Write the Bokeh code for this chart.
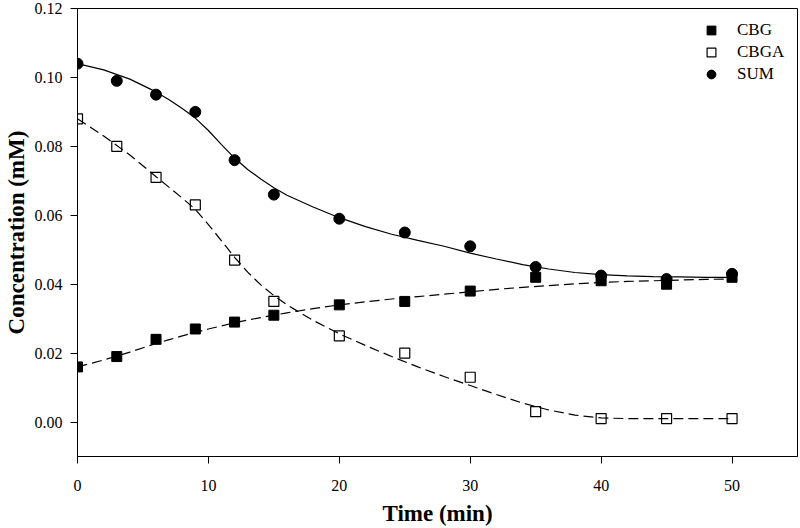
from bokeh.plotting import figure
from bokeh.models import Legend, LegendItem, FixedTicker, NumeralTickFormatter, Range1d
from bokeh.embed import file_html
from bokeh.resources import INLINE

# Measured data
time = [0, 3, 6, 9, 12, 15, 20, 25, 30, 35, 40, 45, 50]
cbg = [0.016, 0.019, 0.024, 0.027, 0.029, 0.031, 0.034, 0.035, 0.038, 0.042, 0.041, 0.040, 0.042]
cbga = [0.088, 0.080, 0.071, 0.063, 0.047, 0.035, 0.025, 0.020, 0.013, 0.003, 0.001, 0.001, 0.001]
total = [0.104, 0.099, 0.095, 0.090, 0.076, 0.066, 0.059, 0.055, 0.051, 0.045, 0.0425, 0.0415, 0.043]

# Fitted curves
fit_t = [0, 2, 4, 6, 7, 8, 9, 10, 11, 12, 13, 14, 15, 16, 18, 20, 22, 24, 26, 28, 30, 32, 34, 36,
         38, 40, 42, 44, 46, 48, 50]
fit_sum = [0.1040, 0.1022, 0.0995, 0.0958, 0.0935, 0.0910, 0.0882, 0.0846, 0.0805, 0.0766, 0.0733,
           0.0705, 0.0680, 0.0658, 0.0624, 0.0593, 0.0567, 0.0545, 0.0527, 0.0510, 0.0490, 0.0473,
           0.0457, 0.0444, 0.0434, 0.0428, 0.0424, 0.0422, 0.0421, 0.0420, 0.0420]
fit_cbga = [0.0880, 0.0830, 0.0775, 0.0712, 0.0681, 0.0650, 0.0617, 0.0573, 0.0526, 0.0478, 0.0435,
            0.0398, 0.0367, 0.0340, 0.0295, 0.0256, 0.0222, 0.0190, 0.0160, 0.0132, 0.0106, 0.0080,
            0.0055, 0.0035, 0.0020, 0.0012, 0.0010, 0.0010, 0.0010, 0.0010, 0.0010]
fit_cbg = [0.0160, 0.0180, 0.0203, 0.0228, 0.0239, 0.0250, 0.0260, 0.0270, 0.0279, 0.0288, 0.0296,
           0.0303, 0.0310, 0.0317, 0.0329, 0.0340, 0.0349, 0.0357, 0.0364, 0.0371, 0.0378, 0.0385,
           0.0391, 0.0396, 0.0401, 0.0405, 0.0408, 0.0410, 0.0412, 0.0414, 0.0415]

x_ticks = [0, 10, 20, 30, 40, 50]
y_ticks = [0.00, 0.02, 0.04, 0.06, 0.08, 0.10, 0.12]
x_title = "Time (min)"
y_title = "Concentration (mM)"

FONT = "Liberation Serif"

p = figure(width=800, height=528, output_backend="svg", toolbar_location=None,
           x_range=Range1d(0, 55), y_range=Range1d(-0.01, 0.12),
           min_border_left=77, min_border_right=3, min_border_top=8, min_border_bottom=72)
p.grid.visible = False
p.outline_line_color = "black"
p.outline_line_width = 1
p.background_fill_color = "white"
p.border_fill_color = "white"

for ax in (p.xaxis[0], p.yaxis[0]):
    ax.major_label_text_font = FONT
    ax.major_label_text_font_size = "16px"
    ax.major_label_text_color = "black"
    ax.axis_label_text_font = FONT
    ax.axis_label_text_font_style = "bold"
    ax.axis_label_text_font_size = "23px"
    ax.axis_label_text_color = "black"
    ax.axis_line_color = "black"
    ax.major_tick_line_color = "black"
    ax.major_tick_out = 7
    ax.major_tick_in = 0
    ax.minor_tick_line_color = None

p.xaxis.axis_label = x_title
p.yaxis.axis_label = y_title
p.xaxis.ticker = FixedTicker(ticks=x_ticks)
p.yaxis.ticker = FixedTicker(ticks=y_ticks)
p.yaxis.formatter = NumeralTickFormatter(format="0.00")
p.xaxis.major_label_standoff = 16
p.xaxis.axis_label_standoff = 7
p.yaxis.major_label_standoff = 8
p.yaxis.axis_label_standoff = 3

# fitted lines
p.line(fit_t, fit_sum, line_color="black", line_width=1.2)
p.line(fit_t, fit_cbg, line_color="black", line_width=1.2, line_dash="10 5")
p.line(fit_t, fit_cbga, line_color="black", line_width=1.2, line_dash="10 5")

# points
r_cbg = p.scatter(time, cbg, marker="square", size=10, fill_color="black", line_color="black")
r_cbga = p.scatter(time, cbga, marker="square", size=10, fill_color=None, line_color="black", line_width=1.2)
r_sum = p.scatter(time, total, marker="circle", size=11, fill_color="black", line_color="black")

legend = Legend(items=[LegendItem(label="CBG", renderers=[r_cbg]),
                       LegendItem(label="CBGA", renderers=[r_cbga]),
                       LegendItem(label="SUM", renderers=[r_sum])],
                location=(623, 371), border_line_color=None, background_fill_alpha=0,
                label_text_font=FONT, label_text_font_size="17px", label_text_color="black",
                glyph_width=22, glyph_height=22, label_height=16, spacing=0, padding=0,
                margin=0, label_standoff=15)
p.add_layout(legend)

open("out.html", "w").write(file_html(p, INLINE))
